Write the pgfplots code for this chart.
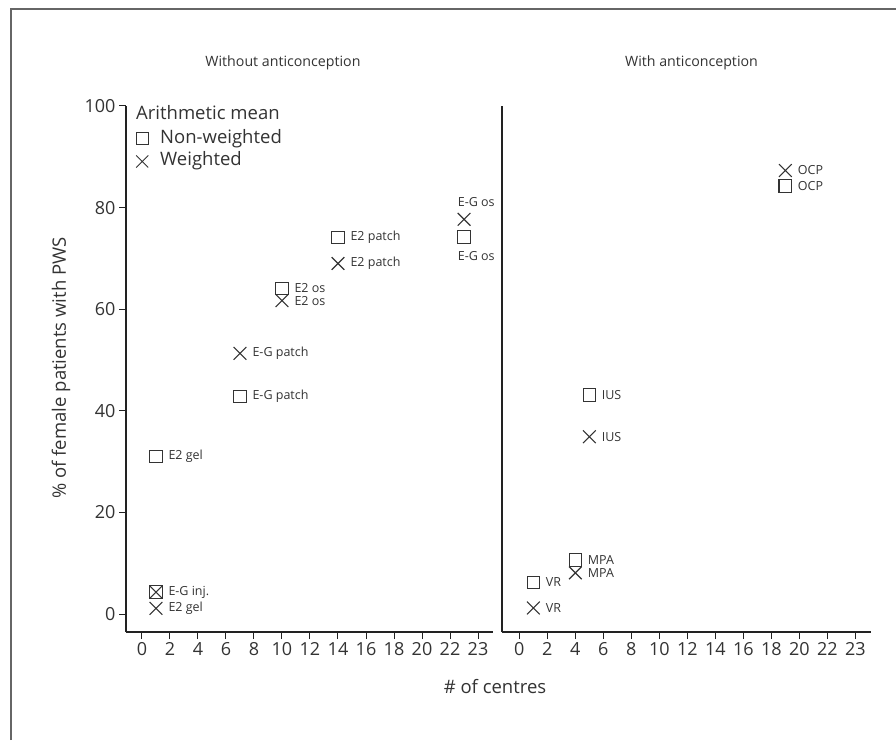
\documentclass[border=0pt]{standalone}
\usepackage{fontspec}
\setmainfont{Open Sans}
\usepackage{pgfplots}
\pgfplotsset{compat=1.18}
\definecolor{ink}{HTML}{333333}
\definecolor{axc}{HTML}{222222}
\definecolor{frame}{HTML}{666666}
\pgfplotsset{
  panel/.style={
    scale only axis, height=526pt,
    axis x line*=bottom, axis y line*=left,
    axis line style={-, line width=1.1pt, color=axc},
    ymin=-3.54, ymax=100,
    xtick={0,2,4,6,8,10,12,14,16,18,20,22,24},
    xticklabels={0,2,4,6,8,10,12,14,16,18,20,22,23},
    tick align=outside, major tick length=7pt,
    tick style={line width=1pt, color=axc},
    ticklabel style={font=\fontsize{18}{18}\selectfont, text=ink},
    /pgf/number format/assume math mode=true,
    clip=false,
  },
  sq/.style={only marks, mark=square, mark size=6.3pt, mark options={line width=1.1pt, draw=ink, fill=none}},
  cr/.style={only marks, mark=x, mark size=9pt, mark options={line width=1.1pt, draw=ink}},
  lbl/.style={nodes near coords, point meta=explicit symbolic,
    every node near coord/.style={anchor=west, inner sep=0pt, xshift=12pt, yshift=0pt,
      font=\fontsize{12.5}{13}\selectfont, text=ink}},
}
\begin{document}
\begin{tikzpicture}
\useasboundingbox (0,0) rectangle (896pt,740pt);
\draw[line width=1.5pt, color=frame] (11pt,0pt) -- (11pt,731pt) -- (896pt,731pt);

% Left panel
\begin{axis}[panel, at={(126pt,108pt)}, anchor=south west, width=367pt,
  xmin=-1.14, xmax=25.07, ytick={0,20,40,60,80,100},
  legend style={draw=none, fill=none, at={(0.0272,0.955)}, anchor=north west,
    inner sep=0pt, row sep=4.6pt, column sep=12pt,
    font=\fontsize{18.5}{18.5}\selectfont, text=ink,
    nodes={inner sep=0pt, text height=13.5pt, text depth=4.5pt}},
  legend cell align=left]
\addlegendimage{legend image code/.code={\draw[ink, line width=0.9pt, mark=square, mark size=6pt, only marks] plot coordinates {(6pt,0pt)};}}
\addlegendentry{Non-weighted}
\addlegendimage{legend image code/.code={\draw[ink, line width=0.9pt, mark=x, mark size=8.5pt, only marks] plot coordinates {(6pt,0pt)};}}
\addlegendentry{Weighted}
\addplot[sq, lbl, forget plot] coordinates {
  (1,31.0) [E2 gel]
  (1,4.3) [E-G inj.]
  (7,42.8) [E-G patch]
  (10,64.1) [E2 os]
  (14,74.1) [E2 patch]
};
\addplot[sq, lbl, forget plot, every node near coord/.append style={xshift=-18.7pt, yshift=-19.4pt}] coordinates {
  (23,74.2) [E-G os]
};
\addplot[cr, lbl, forget plot] coordinates {
  (1,1.1) [E2 gel]
  (7,51.3) [E-G patch]
  (10,61.7) [E2 os]
  (14,69.0) [E2 patch]
};
\addplot[cr, lbl, forget plot, every node near coord/.append style={xshift=-18.7pt, yshift=17pt}] coordinates {
  (23,77.7) [E-G os]
};
\addplot[cr, forget plot] coordinates {(1,4.3)};
\end{axis}

% Right panel
\begin{axis}[panel, at={(502pt,108pt)}, anchor=south west, width=369pt,
  xmin=-1.24, xmax=25.12, ytick=\empty]
\addplot[sq, lbl] coordinates {
  (1,6.2) [VR]
  (4,10.6) [MPA]
  (5,43.1) [IUS]
  (19,84.3) [OCP]
};
\addplot[cr, lbl] coordinates {
  (1,1.2) [VR]
  (4,8.1) [MPA]
  (5,34.9) [IUS]
  (19,87.3) [OCP]
};
\end{axis}

\node[font=\fontsize{18.5}{18.5}\selectfont, text=ink, anchor=west, inner sep=0pt] at (136pt,627pt) {Arithmetic mean};
\node[font=\fontsize{14.2}{17}\selectfont, text=ink] at (283pt,677pt) {Without anticonception};
\node[font=\fontsize{14.2}{17}\selectfont, text=ink] at (691.5pt,677pt) {With anticonception};
\node[font=\fontsize{18.5}{20}\selectfont, text=ink] at (495pt,53pt) {\# of centres};
\node[rotate=90, font=\fontsize{18.5}{20}\selectfont, text=ink] at (61pt,372pt) {\% of female patients with PWS};
\end{tikzpicture}
\end{document}
